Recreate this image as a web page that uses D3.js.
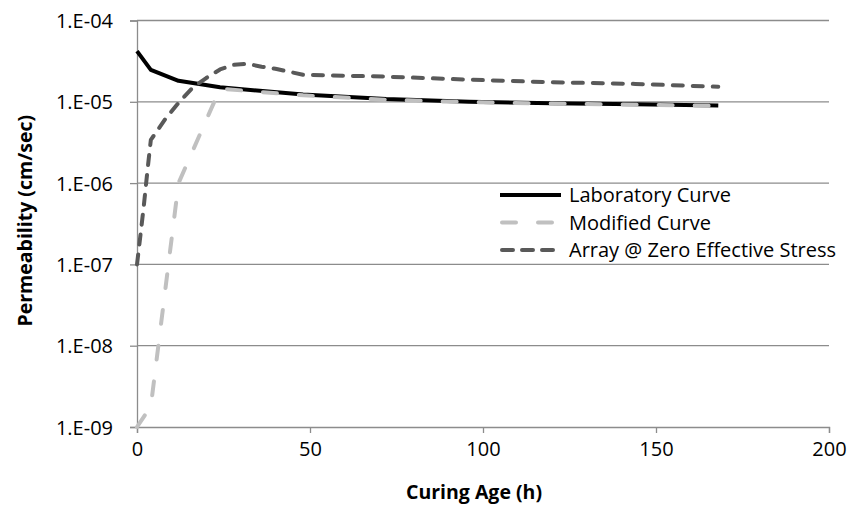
<!DOCTYPE html>
<html><head><meta charset="utf-8">
<script src="https://cdn.jsdelivr.net/npm/d3@7"></script>
<style>body{margin:0;background:#fff}svg{display:block}text{font-family:"Open Sans",Lato,sans-serif}</style>
</head><body><svg id="c" width="852" height="507"></svg>
<script>
const hours = [0, 4, 12, 24, 48, 72, 96, 120, 144, 168];
const labCurve = [4.2e-5, 2.47e-5, 1.81e-5, 1.51e-5, 1.23e-5, 1.08e-5, 1.0e-5, 9.6e-6, 9.3e-6, 9.0e-6];
const modifiedCurve = [1.0e-9, 1.8e-9, 1.0e-6, 1.45e-5, 1.2e-5, 1.06e-5, 9.9e-6, 9.5e-6, 9.2e-6, 8.9e-6];
const arrayHours = [0, 1, 2, 3, 4, 8, 12, 16, 20, 24, 28, 32, 36, 40, 48, 72, 96, 120, 144, 168];
const arrayCurve = [1.0e-7, 2.3e-7, 5.4e-7, 1.4e-6, 3.4e-6, 6.0e-6, 9.7e-6, 1.48e-5, 1.96e-5, 2.5e-5, 2.85e-5, 2.93e-5, 2.7e-5, 2.55e-5, 2.15e-5, 2.04e-5, 1.87e-5, 1.74e-5, 1.66e-5, 1.53e-5];
const xTicks = [0, 50, 100, 150, 200];
const yTicks = [1e-9, 1e-8, 1e-7, 1e-6, 1e-5, 1e-4];
const yTickLabels = ["1.E-09", "1.E-08", "1.E-07", "1.E-06", "1.E-05", "1.E-04"];
const seriesNames = ["Laboratory Curve", "Modified Curve", "Array @ Zero Effective Stress"];

const svg = d3.select("#c");
const x = d3.scaleLinear().domain([0, 200]).range([137, 829]);
const y = d3.scaleLog().domain([1e-9, 1e-4]).range([427, 20.5]);
const grid = "#8c8c8c";
const FS = 20;

svg.append("g").selectAll("line").data(yTicks.slice(1)).join("line")
  .attr("x1", x(0)).attr("x2", x(200)).attr("y1", d => y(d)).attr("y2", d => y(d))
  .attr("stroke", grid).attr("stroke-width", 1.3);

const yAxis = svg.append("g").attr("transform", `translate(${x(0)},0)`)
  .call(d3.axisLeft(y).tickValues(yTicks).tickFormat((d, i) => yTickLabels[i]).tickSize(7).tickPadding(17));
yAxis.select(".domain").attr("stroke", grid).attr("stroke-width", 1.3);
yAxis.selectAll(".tick line").attr("stroke", grid).attr("stroke-width", 1.3);
yAxis.selectAll("text").attr("font-size", FS).attr("fill", "#000").attr("font-family", "Open Sans").attr("dy", "0.35em");

const xAxis = svg.append("g").attr("transform", `translate(0,${y(1e-9)})`)
  .call(d3.axisBottom(x).tickValues(xTicks).tickSize(6).tickPadding(9));
xAxis.select(".domain").attr("stroke", grid).attr("stroke-width", 1.3);
xAxis.selectAll(".tick line").attr("stroke", grid).attr("stroke-width", 1.3);
xAxis.selectAll("text").attr("font-size", FS).attr("fill", "#000").attr("font-family", "Open Sans");

svg.append("text").attr("x", 474).attr("y", 499).attr("text-anchor", "middle")
  .attr("font-size", 19.5).attr("font-weight", "bold").text("Curing Age (h)");
svg.append("text").attr("transform", `translate(32,${(y(1e-9) + y(1e-4)) / 2 - 3}) rotate(-90)`)
  .attr("text-anchor", "middle").attr("font-size", 19.5).attr("font-weight", "bold").text("Permeability (cm/sec)");

const line = d3.line().x(d => x(d[0])).y(d => y(d[1]));
const styles = [
  {color: "#000", width: 4, dash: null, cap: "butt"},
  {color: "#c0c0c0", width: 4, dash: "14,22", cap: "round"},
  {color: "#595959", width: 4, dash: "10,10", cap: "round"}
];
const data = [
  hours.map((h, i) => [h, labCurve[i]]),
  hours.map((h, i) => [h, modifiedCurve[i]]),
  arrayHours.map((h, i) => [h, arrayCurve[i]])
];
[0, 2, 1].forEach(k => {
  svg.append("path").datum(data[k]).attr("d", line).attr("fill", "none")
    .attr("stroke", styles[k].color).attr("stroke-width", styles[k].width)
    .attr("stroke-dasharray", styles[k].dash).attr("stroke-linecap", styles[k].cap)
    .attr("stroke-linejoin", "round");
});

const lg = svg.append("g");
const legendDash = [null, "14,22", "11,9"];
seriesNames.forEach((name, i) => {
  const yy = 195 + i * 27.5;
  lg.append("line").attr("x1", i === 0 ? 500 : 502).attr("x2", 561).attr("y1", yy).attr("y2", yy)
    .attr("stroke", styles[i].color).attr("stroke-width", styles[i].width)
    .attr("stroke-dasharray", legendDash[i])
    .attr("stroke-linecap", styles[i].cap);
  lg.append("text").attr("x", 569).attr("y", yy + 7).attr("font-size", FS).attr("fill", "#000").text(name);
});
</script></body></html>
